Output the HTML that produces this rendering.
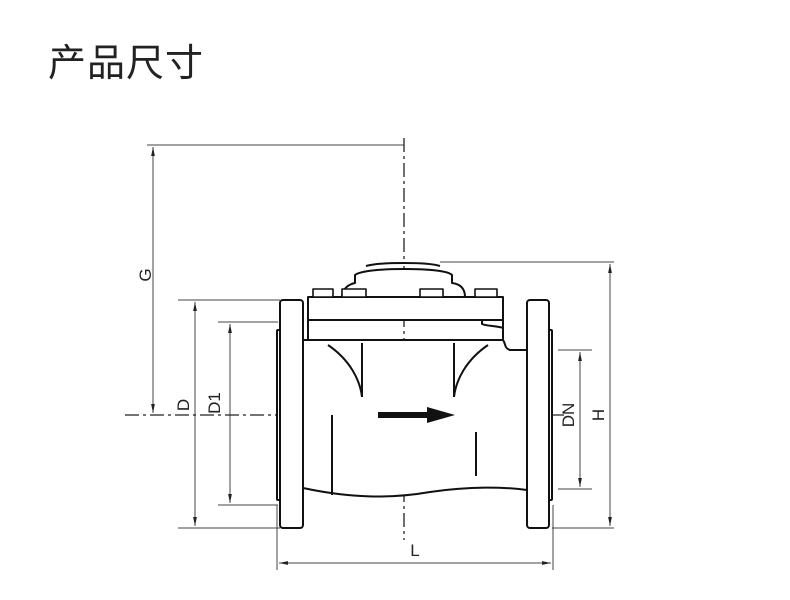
<!DOCTYPE html>
<html><head><meta charset="utf-8"><style>
body{margin:0;width:790px;height:600px;background:#fff;overflow:hidden;position:relative}
.t{position:absolute;left:48px;top:32px;font:38px "Liberation Sans","Noto Sans CJK SC",sans-serif;color:#222;letter-spacing:1px}
svg{position:absolute;left:0;top:0}
</style></head><body>
<div class="t">产品尺寸</div>
<svg width="790" height="600" viewBox="0 0 790 600">
<defs><marker id="a" viewBox="0 0 12 8" refX="12" refY="4" markerWidth="10" markerHeight="6" orient="auto-start-reverse"><path d="M0,1.5 L12,4 L0,6.5 z" fill="#222"/></marker></defs>
<g stroke="#444" stroke-width="1" fill="none">
<line x1="147" y1="145" x2="404" y2="145"/>
<line x1="178" y1="300" x2="280" y2="300"/>
<line x1="178" y1="528" x2="280" y2="528"/>
<line x1="218" y1="322" x2="278" y2="322"/>
<line x1="218" y1="505" x2="278" y2="505"/>
<line x1="440" y1="262" x2="614" y2="262"/>
<line x1="552" y1="528" x2="614" y2="528"/>
<line x1="558" y1="350" x2="592" y2="350"/>
<line x1="558" y1="489" x2="592" y2="489"/>
<line x1="277" y1="505" x2="277" y2="570"/>
<line x1="553" y1="505" x2="553" y2="570"/>
<line x1="153" y1="147" x2="153" y2="413" marker-start="url(#a)" marker-end="url(#a)"/>
<line x1="195" y1="302" x2="195" y2="526" marker-start="url(#a)" marker-end="url(#a)"/>
<line x1="230" y1="324" x2="230" y2="503" marker-start="url(#a)" marker-end="url(#a)"/>
<line x1="610" y1="264" x2="610" y2="526" marker-start="url(#a)" marker-end="url(#a)"/>
<line x1="580" y1="352" x2="580" y2="487" marker-start="url(#a)" marker-end="url(#a)"/>
<line x1="279" y1="563" x2="551" y2="563" marker-start="url(#a)" marker-end="url(#a)"/>
</g>
<g stroke="#222" stroke-width="1.3" stroke-dasharray="14,4,3,4">
<line x1="404" y1="138" x2="404" y2="540"/>
<line x1="125" y1="415" x2="565" y2="415"/>
</g>
<g stroke="#111" stroke-width="2" fill="#fff" stroke-linejoin="round">
<rect x="277" y="330" width="4" height="170" rx="1"/>
<rect x="548" y="330" width="4" height="170" rx="1"/>
<path d="M303,340 L503,340 C506,344 504,348 510,350 L527,350 L527,490 C505,487 470,486 430,492 C390,499 350,498 303,488 Z"/>
<rect x="280" y="300" width="23" height="228" rx="3"/>
<rect x="527" y="300" width="22" height="228" rx="3"/>
<path d="M308,320 L503,320 L503,328 C498,326 486,326 482,324 L482,320"/>
<path d="M308,320 L308,340 M503,320 L503,340"/>
<path d="M342,297 C342,288 350,284 355,283 L355,275 C360,271 380,269 404,269 C430,269 448,271 452,275 L452,283 C460,284 465,288 465,297"/>
<path d="M366,266 C380,262 428,262 440,266"/>
<rect x="308" y="297" width="195" height="23"/>
<g stroke-width="1.6">
<rect x="313" y="289" width="20" height="8"/><rect x="342" y="289" width="24" height="8"/>
<rect x="420" y="289" width="23" height="8"/><rect x="475" y="289" width="22" height="8"/>
</g>
</g>
<g stroke="#111" stroke-width="2" fill="none">
<path d="M328,345 C350,360 360,380 362,397 M362,343 L362,397"/>
<path d="M488,345 C466,360 456,380 454,397 M454,343 L454,397"/>
<line x1="332" y1="415" x2="332" y2="495"/>
<line x1="476" y1="432" x2="476" y2="476"/>
<line x1="305" y1="340" x2="500" y2="340"/>
</g>
<path d="M378,412 L427,412 L427,407 L455,415 L427,423 L427,418 L378,418 Z" fill="#111"/>
<g font-family="Liberation Sans,sans-serif" font-size="17" fill="#222">
<text transform="translate(151,275) rotate(-90)" text-anchor="middle">G</text>
<text transform="translate(189,405) rotate(-90)" text-anchor="middle">D</text>
<text transform="translate(220,403) rotate(-90)" text-anchor="middle">D1</text>
<text transform="translate(574,415) rotate(-90)" text-anchor="middle">DN</text>
<text transform="translate(604,415) rotate(-90)" text-anchor="middle">H</text>
<text x="415" y="556" text-anchor="middle">L</text>
</g>
</svg>
</body></html>
